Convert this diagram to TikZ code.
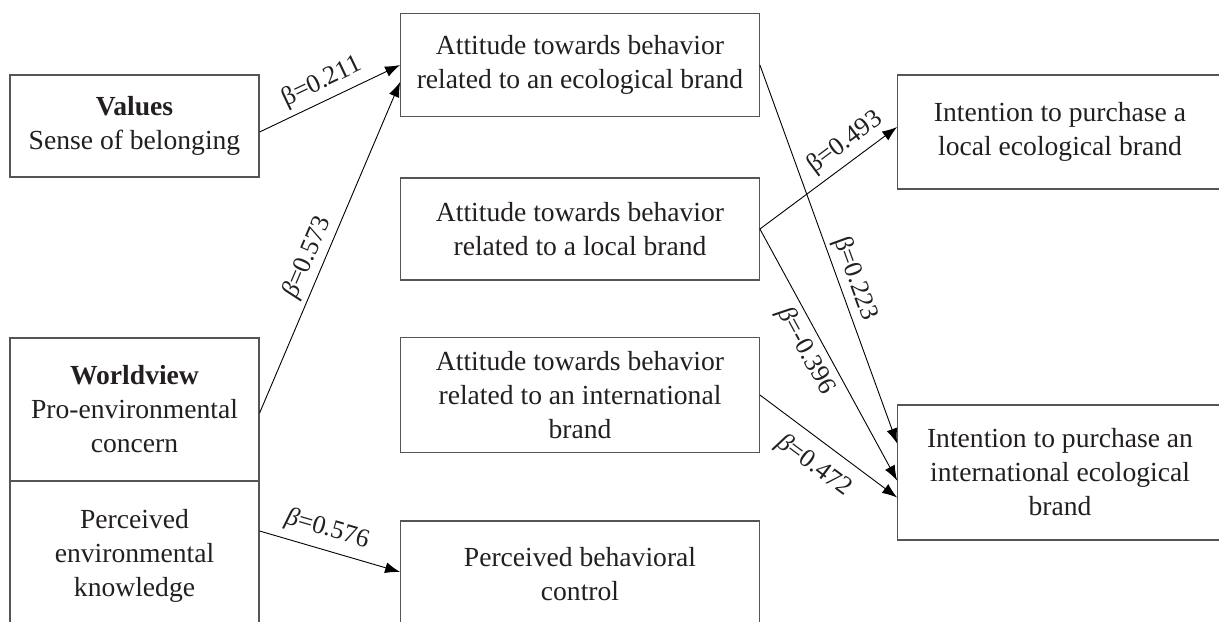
\documentclass[tikz,border=0pt]{standalone}
\usepackage{fontspec}
\setmainfont{Liberation Serif}
\usetikzlibrary{arrows.meta,calc}
\definecolor{txt}{HTML}{231F20}
\definecolor{bord}{HTML}{555555}
\begin{document}
\begin{tikzpicture}[x=0.5pt,y=-0.5pt,
  box/.style={draw=bord,line width=0.6pt,text=txt,align=center,inner sep=0pt,font=\fontsize{13.8}{17}\selectfont},
  conn/.style={-{Latex[length=7.5pt,width=5.5pt]},line width=0.45pt},
  lab/.style={font=\fontsize{13}{15}\selectfont,text=txt,sloped,inner sep=2pt}]
\useasboundingbox (0,0) rectangle (1219,621);
\clip (0,0) rectangle (1219,621);
% left column
\node[box,minimum width=124.5pt,minimum height=51pt] (vals) at (134.5,126) {\textbf{Values}\\Sense of belonging};
\node[box,minimum width=124.5pt,minimum height=71.5pt] (wv) at (134.5,409.5) {\textbf{Worldview}\\Pro-environmental\\concern};
\node[box,minimum width=124.5pt,minimum height=75pt] (pek) at (134.5,556) {Perceived\\environmental\\knowledge};
% middle column
\node[box,minimum width=179.3pt,minimum height=51.15pt] (ate) at (580,65) {Attitude towards behavior\\related to an ecological brand};
\node[box,minimum width=179.3pt,minimum height=51pt] (atl) at (580,229) {Attitude towards behavior\\related to a local brand};
\node[box,minimum width=179.3pt,minimum height=57.15pt] (ati) at (580,395) {Attitude towards behavior\\related to an international\\brand};
\node[box,minimum width=179.3pt,minimum height=53pt] (pbc) at (580,574) {Perceived behavioral\\control};
% right column
\node[box,minimum width=162.3pt,minimum height=57pt] (il) at (1060,132) {Intention to purchase a\\local ecological brand};
\node[box,minimum width=162.3pt,minimum height=67.5pt] (ii) at (1060,472.5) {Intention to purchase an\\international ecological\\brand};
% connectors
\draw[conn] ($(vals.east)+(0,6)$) -- node[lab,above,pos=0.5,inner sep=3pt]{β=0.211} (ate.west);
\draw[conn] ($(wv.east)+(0,3.5)$) -- node[lab,above,pos=0.45]{\textit{β}=0.573} ($(ate.west)+(0,17)$);
\draw[conn] ($(pek.east)+(0,-25)$) -- node[lab,above,pos=0.44,inner sep=4pt]{\textit{β}=0.576} ($(pbc.west)+(0,-2)$);
\draw[conn] (ate.east) -- node[lab,above,pos=0.58]{β=0.223} ($(ii.west)+(0,-29)$);
\draw[conn] (atl.east) -- node[lab,above,pos=0.7,inner sep=3pt]{β=0.493} ($(il.west)+(0,-5)$);
\draw[conn] (atl.east) -- node[lab,below,pos=0.45,inner sep=3pt]{\textit{β}=-0.396} ($(ii.west)+(0,8)$);
\draw[conn] (ati.east) -- node[lab,below,pos=0.5,inner sep=6pt]{\textit{β}=0.472} ($(ii.west)+(0,25)$);
\end{tikzpicture}
\end{document}
